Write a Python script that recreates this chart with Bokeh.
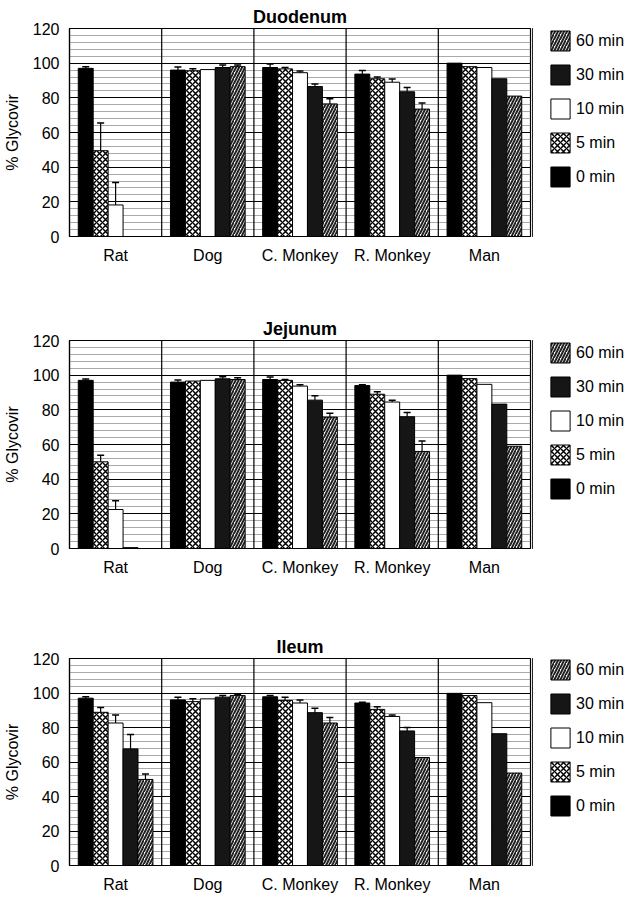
from bokeh.plotting import figure
from bokeh.models import (ColumnDataSource, FactorRange, Range1d, SingleIntervalTicker,
                          Span, Legend, LegendItem)
from bokeh.transform import dodge
from bokeh.layouts import column, row
from bokeh.embed import file_html
from bokeh.resources import INLINE

# ---------------- data ----------------
categories = ["Rat", "Dog", "C. Monkey", "R. Monkey", "Man"]
time_labels = ["0 min", "5 min", "10 min", "30 min", "60 min"]
y_ticks = [0, 20, 40, 60, 80, 100, 120]

# Duodenum (% Glycovir) and error (upper SEM)
duodenum_0min = [97.0, 96.0, 97.5, 93.7, 100.0]
duodenum_5min = [49.5, 95.6, 96.7, 91.0, 98.0]
duodenum_10min = [18.2, 96.3, 94.5, 89.0, 97.5]
duodenum_30min = [0.0, 97.5, 86.5, 83.5, 91.0]
duodenum_60min = [0.0, 98.0, 76.5, 73.5, 81.0]
duodenum_err_0min = [1.0, 1.8, 2.0, 2.0, 0.0]
duodenum_err_5min = [16.0, 1.2, 0.8, 1.0, 0.0]
duodenum_err_10min = [13.0, 0.0, 1.0, 1.8, 0.0]
duodenum_err_30min = [0.0, 1.5, 1.5, 2.5, 0.0]
duodenum_err_60min = [0.0, 1.0, 3.0, 3.5, 0.0]

# Jejunum
jejunum_0min = [97.0, 96.0, 97.5, 94.0, 100.0]
jejunum_5min = [50.0, 96.6, 97.0, 89.0, 98.0]
jejunum_10min = [22.5, 97.0, 93.7, 84.5, 94.7]
jejunum_30min = [0.5, 97.9, 85.6, 76.0, 83.3]
jejunum_60min = [0.0, 97.5, 75.8, 56.0, 59.0]
jejunum_err_0min = [0.8, 1.2, 1.5, 0.5, 0.0]
jejunum_err_5min = [3.8, 0.0, 0.5, 1.5, 0.0]
jejunum_err_10min = [5.0, 0.0, 0.8, 1.0, 0.0]
jejunum_err_30min = [0.0, 1.2, 2.5, 2.5, 0.0]
jejunum_err_60min = [0.0, 1.0, 2.2, 6.0, 0.0]

# Ileum
ileum_0min = [97.0, 96.0, 97.8, 94.2, 99.8]
ileum_5min = [88.8, 95.0, 95.7, 90.5, 98.5]
ileum_10min = [82.6, 96.6, 94.2, 86.4, 94.4]
ileum_30min = [67.6, 97.6, 88.6, 78.0, 76.4]
ileum_60min = [49.9, 98.5, 82.6, 62.6, 53.6]
ileum_err_0min = [0.8, 1.5, 0.8, 0.5, 0.0]
ileum_err_5min = [2.8, 1.7, 1.8, 1.5, 0.0]
ileum_err_10min = [4.7, 0.0, 1.8, 0.8, 0.0]
ileum_err_30min = [8.4, 1.0, 2.5, 2.0, 0.0]
ileum_err_60min = [3.2, 0.8, 3.2, 0.0, 0.0]

# ---------------- styling ----------------
FONT = "Liberation Sans"
OFFSETS = [-0.324, -0.162, 0.0, 0.162, 0.324]
BAR_W = 0.162
STYLES = [
    dict(fill_color="#000000"),
    dict(fill_color="white", hatch_pattern="x", hatch_scale=6, hatch_weight=1.5, hatch_color="black"),
    dict(fill_color="white"),
    dict(fill_color="#161616"),
    dict(fill_color="white", hatch_pattern="/", hatch_scale=6, hatch_weight=2, hatch_color="#222222"),
]
FRAME_W = 468
LEFT_B = 62
MAIN_W = LEFT_B + FRAME_W + 2
LEG_W = 632 - MAIN_W


def make_panel(title, series, errors, top_b, frame_h, bottom_b):
    H = top_b + frame_h + bottom_b
    p = figure(x_range=FactorRange(*categories), y_range=Range1d(0, 120),
               width=MAIN_W, height=H,
               min_border_left=LEFT_B, min_border_right=2,
               min_border_top=top_b, min_border_bottom=bottom_b,
               output_backend="svg", toolbar_location=None, title=title)
    p.title.align = "center"
    p.title.text_font = FONT
    p.title.text_font_size = "18px"
    p.title.text_font_style = "bold"
    p.title.text_color = "black"
    p.title.standoff = 4

    p.outline_line_color = "black"
    p.outline_line_width = 1.2
    p.background_fill_color = "white"

    ticker = SingleIntervalTicker(interval=20, num_minor_ticks=5)
    p.yaxis.ticker = ticker
    p.ygrid.ticker = ticker
    p.ygrid.grid_line_color = "black"
    p.ygrid.grid_line_width = 1
    p.ygrid.minor_grid_line_color = "#555555"
    p.ygrid.minor_grid_line_dash = "1 1"
    p.ygrid.minor_grid_line_width = 1
    p.xgrid.grid_line_color = None

    for ax in (p.xaxis, p.yaxis):
        ax.major_tick_out = 0
        ax.major_tick_in = 0
        ax.minor_tick_out = 0
        ax.minor_tick_in = 0
        ax.axis_line_color = "black"
        ax.axis_line_width = 1.2
        ax.major_label_text_font = FONT
        ax.major_label_text_font_size = "16px"
        ax.major_label_text_color = "black"
    p.xaxis.major_label_standoff = 10
    p.yaxis.major_label_standoff = 10
    p.yaxis.axis_label = "% Glycovir"
    p.yaxis.axis_label_text_font = FONT
    p.yaxis.axis_label_text_font_size = "16px"
    p.yaxis.axis_label_text_font_style = "normal"
    p.yaxis.axis_label_text_color = "black"
    p.yaxis.axis_label_standoff = 9

    for b in range(1, len(categories)):
        p.add_layout(Span(location=b, dimension="height", line_color="black", line_width=1.2))

    for k, (vals, errs) in enumerate(zip(series, errors)):
        src = ColumnDataSource(dict(cat=categories, val=vals))
        xd = dodge("cat", OFFSETS[k], range=p.x_range)
        p.vbar(x=xd, top="val", width=BAR_W, source=src,
               line_color="black", line_width=1, **STYLES[k])
        ec = [c for c, e in zip(categories, errs) if e > 0]
        ey0 = [v for v, e in zip(vals, errs) if e > 0]
        ey1 = [v + e for v, e in zip(vals, errs) if e > 0]
        esrc = ColumnDataSource(dict(cat=ec, y0=ey0, y1=ey1))
        p.segment(x0=xd, y0="y0", x1=xd, y1="y1", source=esrc,
                  line_color="black", line_width=1.2)
        p.scatter(x=xd, y="y1", source=esrc, marker="dash", size=7,
                  line_color="black", line_width=1.5)

    # legend figure to the right of the chart (legend-only renderers lie outside its range)
    lf = figure(width=LEG_W, height=H, x_range=Range1d(0, 1), y_range=Range1d(0, 1),
                min_border_left=0, min_border_right=0,
                min_border_top=top_b, min_border_bottom=bottom_b,
                output_backend="svg", toolbar_location=None)
    lf.axis.visible = False
    lf.grid.grid_line_color = None
    lf.outline_line_color = None
    leg_renderers = []
    for k in range(len(time_labels)):
        r = lf.vbar(x=[-5.0], top=[1.0], width=0.1, line_color="black", line_width=1, **STYLES[k])
        leg_renderers.append(r)
    items = [LegendItem(label=time_labels[k], renderers=[leg_renderers[k]])
             for k in reversed(range(len(time_labels)))]
    gh, sp = 25, 9
    leg_h = 5 * gh + 4 * sp
    legend = Legend(items=items, location=(16, frame_h - leg_h),
                    glyph_width=24, glyph_height=gh, label_height=gh, spacing=sp,
                    padding=0, margin=0, border_line_color=None,
                    background_fill_alpha=0, label_text_font=FONT,
                    label_text_font_size="16px", label_text_color="black",
                    label_standoff=4)
    lf.add_layout(legend)
    return row(p, lf)


f1 = make_panel("Duodenum",
                [duodenum_0min, duodenum_5min, duodenum_10min, duodenum_30min, duodenum_60min],
                [duodenum_err_0min, duodenum_err_5min, duodenum_err_10min, duodenum_err_30min, duodenum_err_60min],
                28, 208, 76)
f2 = make_panel("Jejunum",
                [jejunum_0min, jejunum_5min, jejunum_10min, jejunum_30min, jejunum_60min],
                [jejunum_err_0min, jejunum_err_5min, jejunum_err_10min, jejunum_err_30min, jejunum_err_60min],
                28, 208, 82)
f3 = make_panel("Ileum",
                [ileum_0min, ileum_5min, ileum_10min, ileum_30min, ileum_60min],
                [ileum_err_0min, ileum_err_5min, ileum_err_10min, ileum_err_30min, ileum_err_60min],
                28, 208, 29)

layout = column(f1, f2, f3)
open("out.html", "w").write(file_html(layout, INLINE))
